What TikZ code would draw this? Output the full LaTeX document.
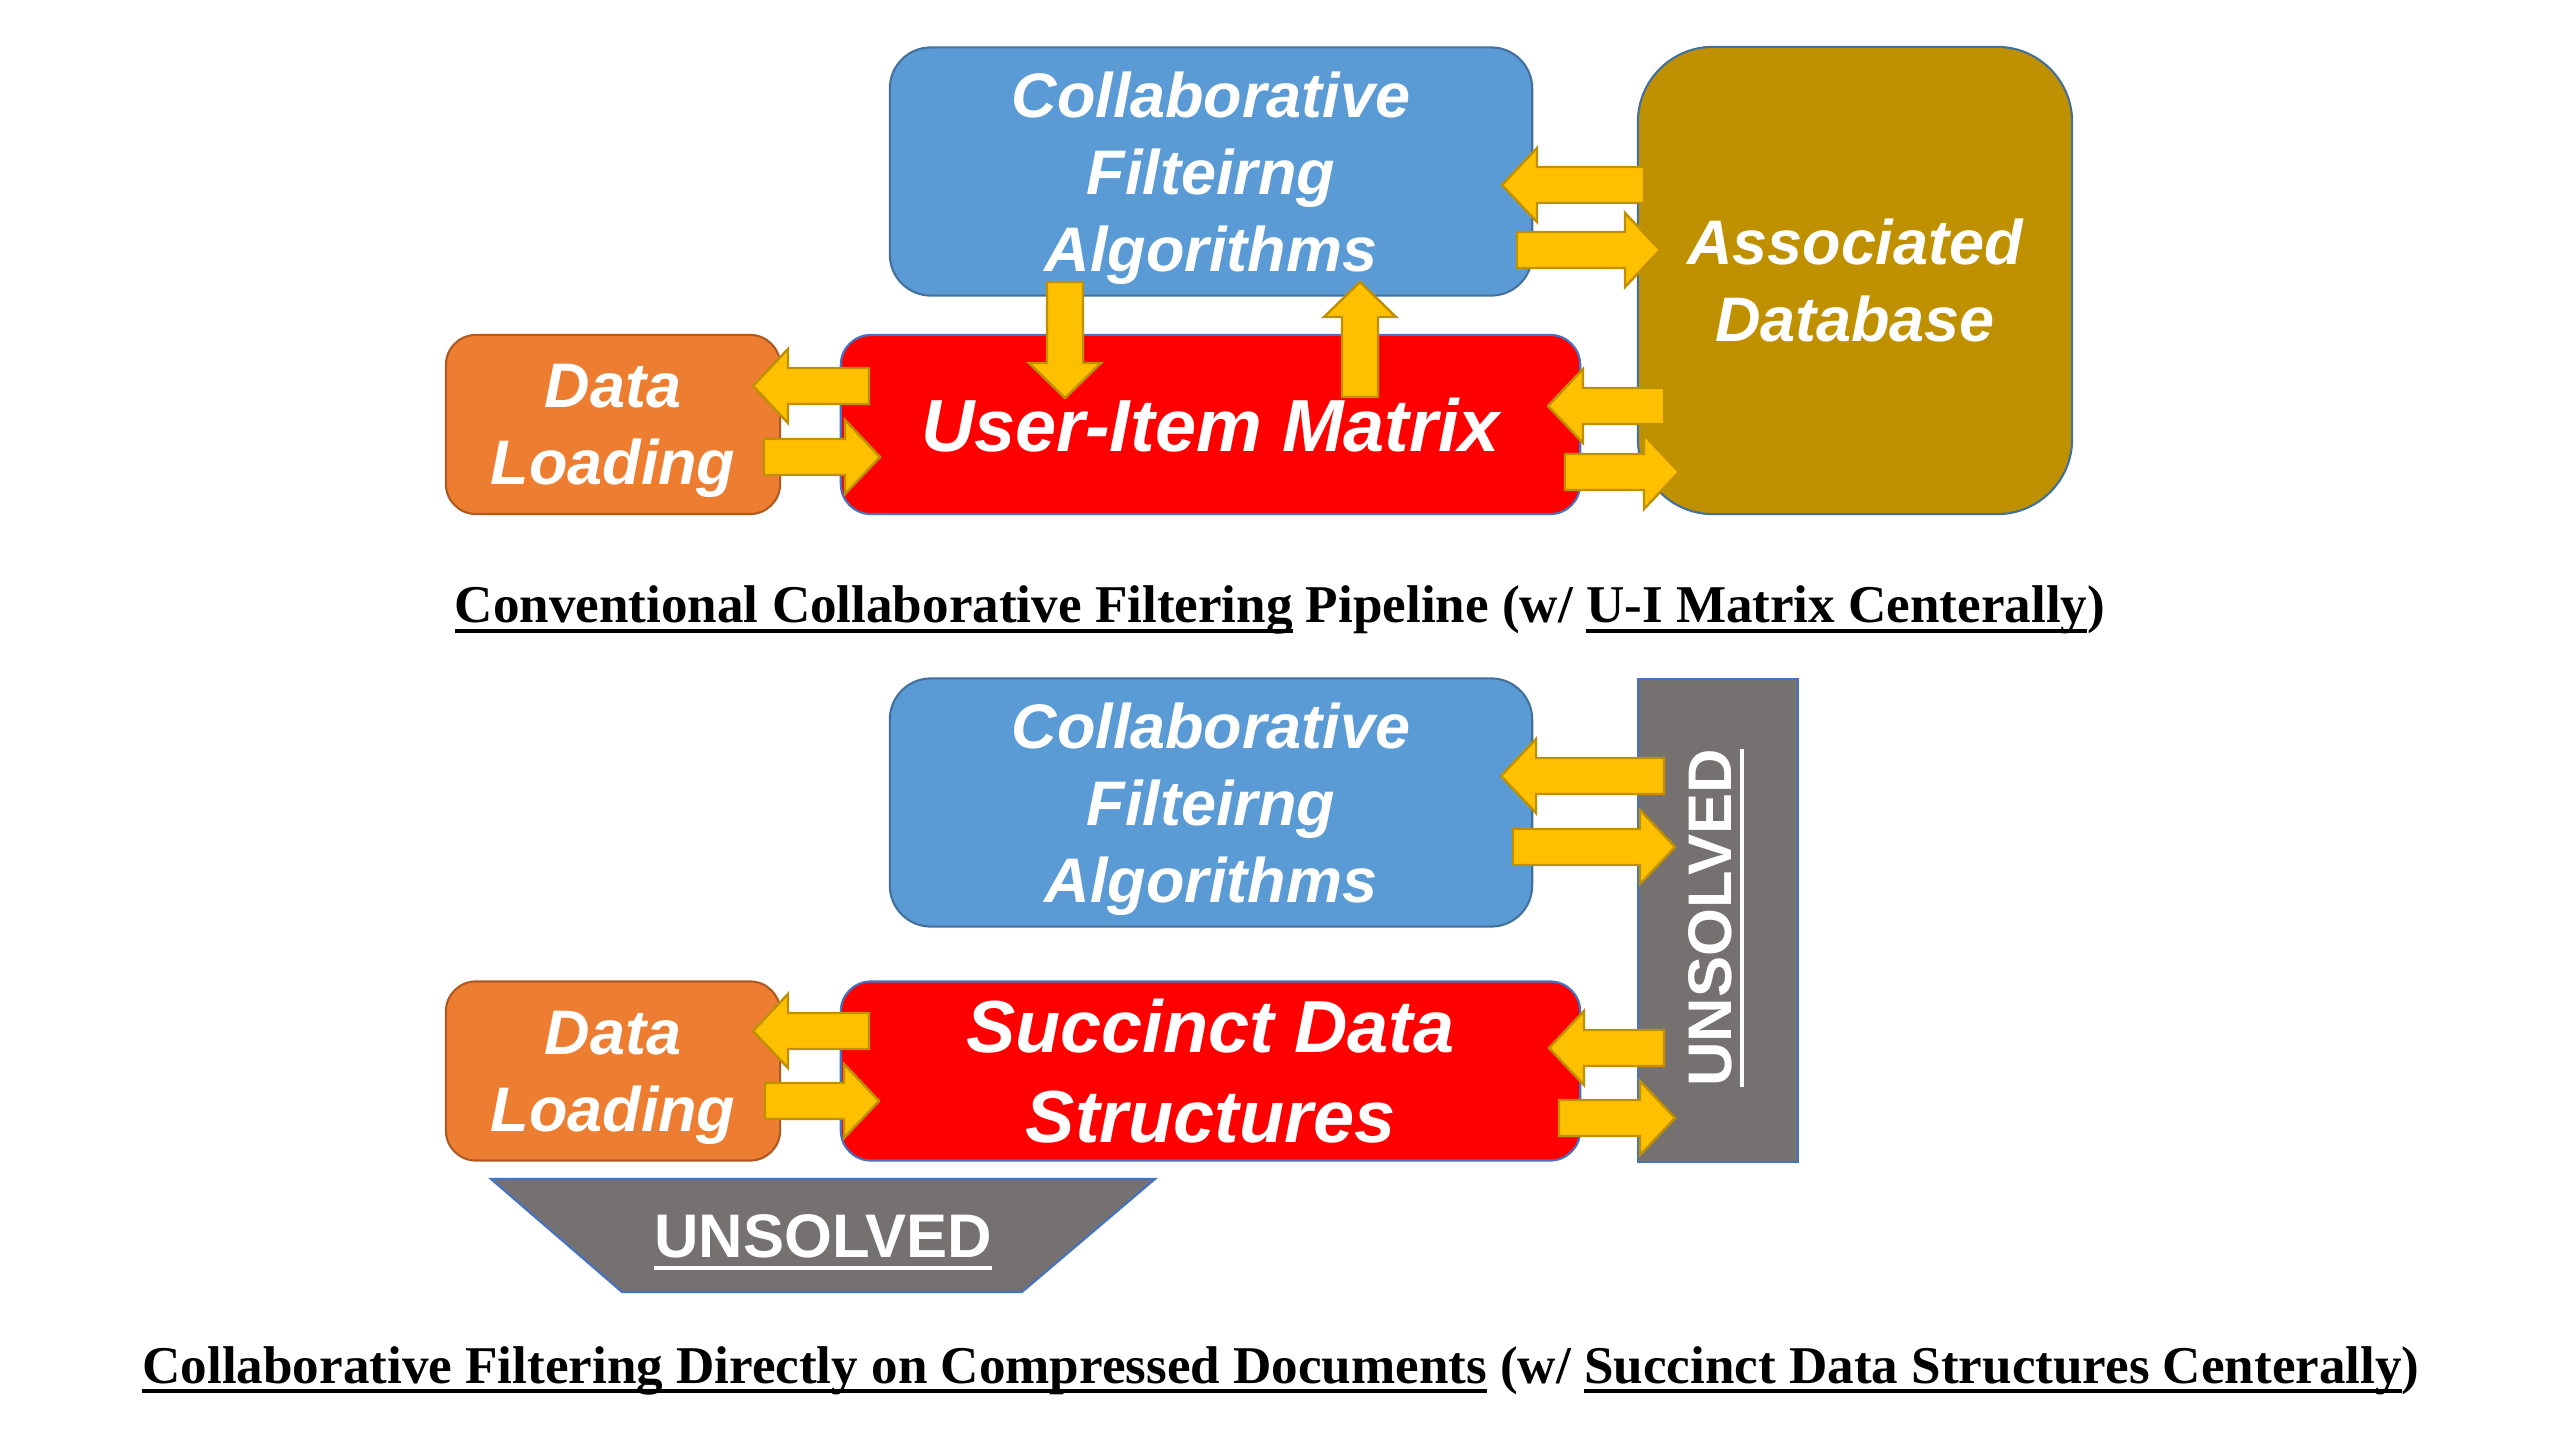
\documentclass[tikz,border=0pt]{standalone}
\usepackage{fontspec}
\setmainfont{Liberation Serif}
\setsansfont{Liberation Sans}
\usetikzlibrary{calc}

\definecolor{cfblue}{HTML}{5B9BD5}
\definecolor{cfblueline}{HTML}{41719C}
\definecolor{dlorange}{HTML}{ED7D31}
\definecolor{dlorangeline}{HTML}{AE5A21}
\definecolor{mxred}{HTML}{FF0000}
\definecolor{edgeblue}{HTML}{4472C4}
\definecolor{dbgold}{HTML}{BF9000}
\definecolor{unsgray}{HTML}{767171}
\definecolor{arrowfill}{HTML}{FFC000}
\definecolor{arrowline}{HTML}{BF9000}

% underline with a fixed offset below the baseline
\newcommand{\ulin}[2][2.9pt]{\setbox0\hbox{#2}\rlap{\rule[-#1]{\wd0}{1.1pt}}\box0\relax}

% horizontal block arrow: tail x, tip x, centre y
\newcommand{\hblock}[3]{%
  \pgfmathsetmacro{\abase}{#2-35*sign(#2-#1)}%
  \draw[blockarrow] (#1,#3-18) -- (\abase,#3-18) -- (\abase,#3-37) -- (#2,#3)
    -- (\abase,#3+37) -- (\abase,#3+18) -- (#1,#3+18) -- cycle;}
% vertical block arrow: centre x, tail y, tip y
\newcommand{\vblock}[3]{%
  \pgfmathsetmacro{\abase}{#3-35*sign(#3-#2)}%
  \draw[blockarrow] (#1-18,#2) -- (#1-18,\abase) -- (#1-36,\abase) -- (#1,#3)
    -- (#1+36,\abase) -- (#1+18,\abase) -- (#1+18,#2) -- cycle;}

\tikzset{
  blockarrow/.style={fill=arrowfill, draw=arrowline, line width=0.7pt, line join=miter},
  boxtext/.style={text=white, align=center, text depth=0pt,
    font=\sffamily\bfseries\itshape\fontsize{17.9pt}{21.9pt}\selectfont},
  bigtext/.style={text=white, align=center, text depth=0pt,
    font=\sffamily\bfseries\itshape\fontsize{21pt}{25.6pt}\selectfont},
  cfbox/.style={boxtext, fill=cfblue, draw=cfblueline, line width=0.6pt, rounded corners=0.41cm,
    minimum width=6.42cm, minimum height=2.48cm, inner sep=0pt},
  dlbox/.style={boxtext, fill=dlorange, draw=dlorangeline, line width=0.6pt, rounded corners=0.3cm,
    minimum width=3.34cm, minimum height=1.79cm, inner sep=0pt},
  redbox/.style={bigtext, fill=mxred, draw=edgeblue, line width=0.6pt, rounded corners=0.3cm,
    minimum width=7.39cm, minimum height=1.79cm, inner sep=0pt},
  unstext/.style={text=white, font=\sffamily\bfseries\fontsize{17.5pt}{20pt}\selectfont},
  caption/.style={font=\bfseries\fontsize{15.1pt}{18pt}\selectfont, anchor=base, inner sep=0pt},
}

\begin{document}
\begin{tikzpicture}[x=0.01cm, y=-0.01cm]
\useasboundingbox (0,0) rectangle (2560,1440);

% ---------- conventional pipeline ----------
\node[cfbox] (cfa1) at (1211,171.5) {Collaborative\\Filteirng\\Algorithms};
\node[boxtext, fill=dbgold, draw=cfblueline, line width=0.6pt, rounded corners=0.75cm,
  minimum width=4.34cm, minimum height=4.67cm, inner sep=0pt] (db) at (1855,280.5)
  {Associated\\Database};
\node[dlbox] (dl1) at (613,424.5) {Data\\Loading};
\node[redbox] (uim) at (1210.5,424.5) {User-Item Matrix};

\hblock{1644}{1502}{185}
\hblock{1517}{1660}{250}
\hblock{1664}{1548}{406}
\hblock{1565}{1679}{472}
\vblock{1065}{282}{398}
\vblock{1360}{397}{282}
\hblock{869}{753}{386}
\hblock{764}{880}{457}

\node[caption] (cap1) at (1280,623)
  {\ulin{Conventional Collaborative Filtering} Pipeline (w/ \ulin{U-I Matrix Centerally})};

% ---------- compressed-document pipeline ----------
\node[cfbox] (cfa2) at (1211,802.5) {Collaborative\\Filteirng\\Algorithms};
\node[fill=unsgray, draw=edgeblue, line width=0.6pt, minimum width=1.6cm,
  minimum height=4.83cm, inner sep=0pt] (uns1) at (1718,920.5) {};
\node[unstext, rotate=90] (uns1t) at (1716,918) {\ulin[3.6pt]{UNSOLVED}};
\node[dlbox] (dl2) at (613,1071) {Data\\Loading};
\node[redbox] (sds) at (1210.5,1071) {Succinct Data\\Structures};

\hblock{1664}{1501}{776}
\hblock{1513}{1675}{847}
\hblock{1664}{1549}{1048}
\hblock{1559}{1675}{1118}
\hblock{869}{753}{1031}
\hblock{765}{879}{1101}

\draw[fill=unsgray, draw=edgeblue, line width=0.6pt]
  (491,1179) -- (1155,1179) -- (1022,1292) -- (622,1292) -- cycle;
\node[unstext, anchor=base] (uns2) at (823,1257) {\ulin[3.6pt]{UNSOLVED}};

\node[caption] (cap2) at (1281,1383)
  {\ulin{Collaborative Filtering Directly on Compressed Documents} (w/ \ulin{Succinct Data Structures Centerally})};
\end{tikzpicture}
\end{document}
